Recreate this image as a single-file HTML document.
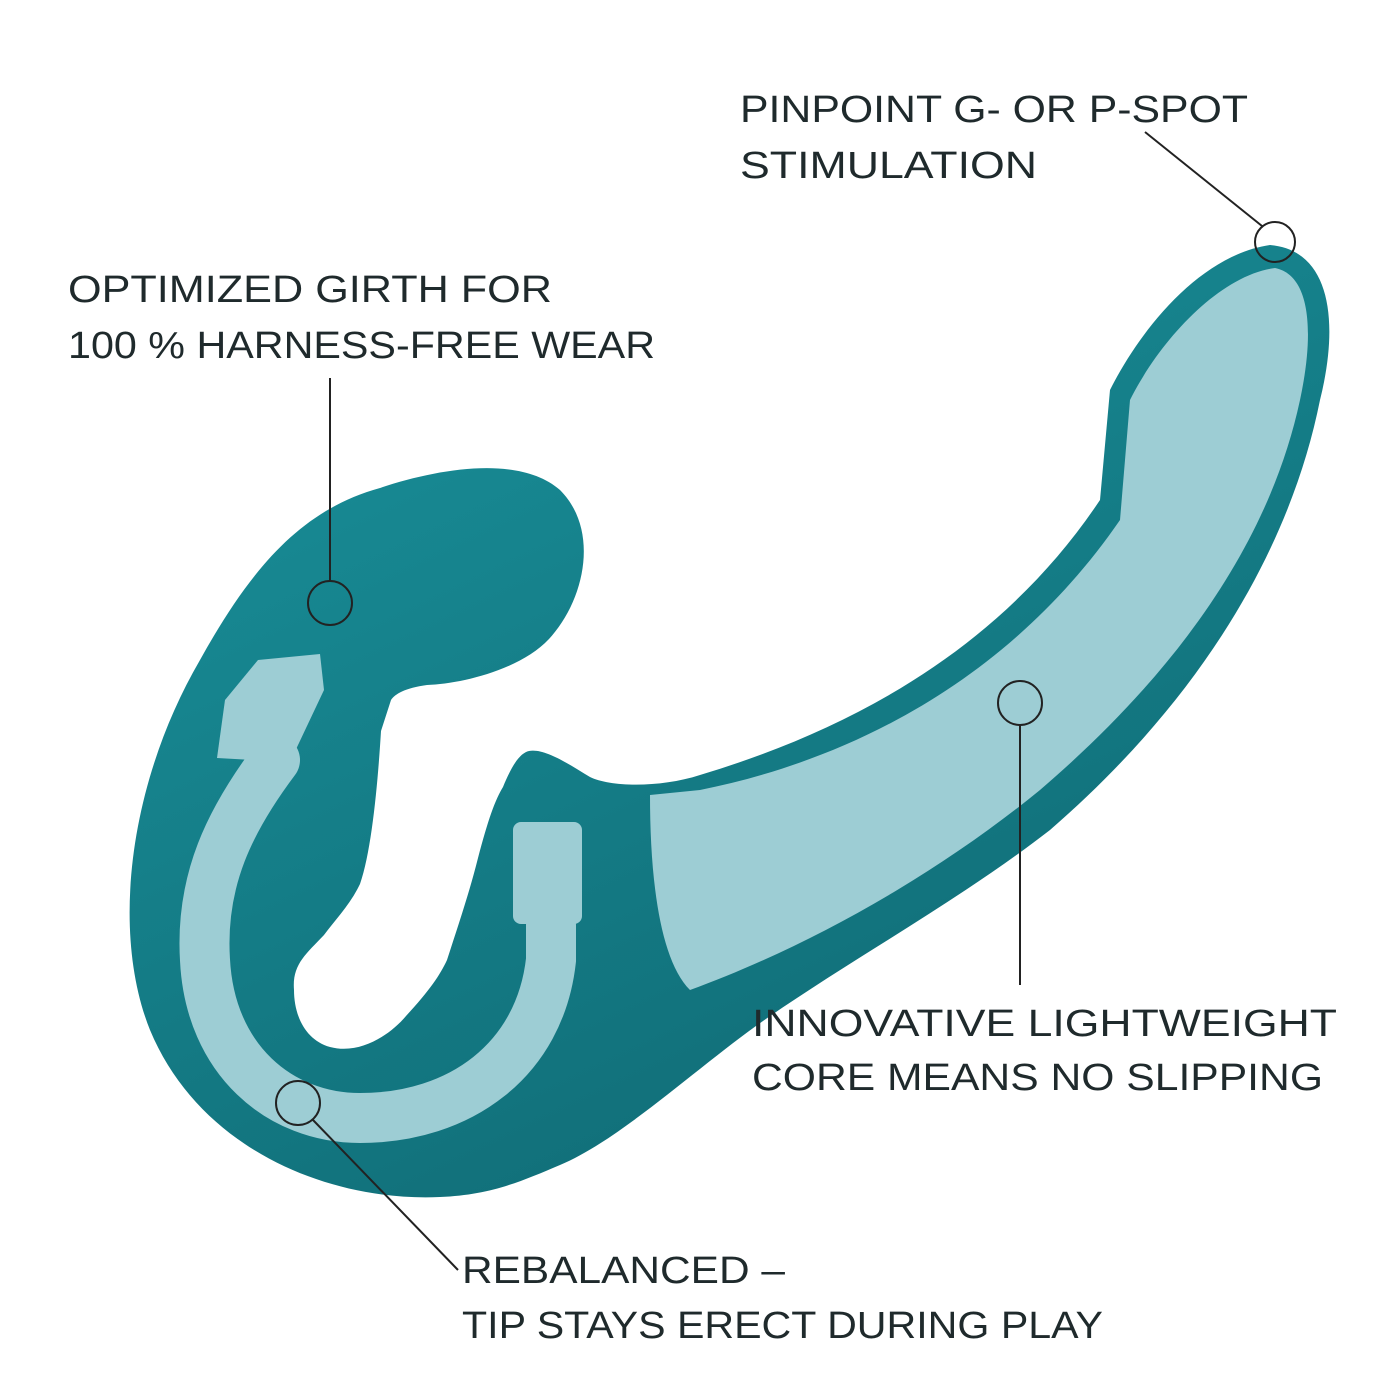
<!DOCTYPE html>
<html><head><meta charset="utf-8"><style>
html,body{margin:0;padding:0;background:#fff;}
svg{display:block;}
text{font-family:"Liberation Sans",sans-serif;font-size:38px;fill:#1f2a2c;}
</style></head><body>
<svg width="1400" height="1400" viewBox="0 0 1400 1400" xmlns="http://www.w3.org/2000/svg">
<defs>
<linearGradient id="tg" x1="0" y1="0" x2="0.6" y2="1">
<stop offset="0" stop-color="#1a929c"/><stop offset="1" stop-color="#106c76"/>
</linearGradient>
</defs>
<rect width="1400" height="1400" fill="#fff"/>
<!-- body -->
<path d="M391 700 L381 731 C378 780 372 850 360 884 C350 905 335 920 324 935 C305 955 292 965 294 990 C294 1015 305 1040 330 1047 C360 1055 390 1035 406 1016 C430 990 440 975 447 960 C460 920 470 890 478 858 C488 820 495 800 503 787 C512 765 520 753 529 751 C545 748 570 765 590 777 C610 787 660 788 700 775
C850 730 1000 650 1100 500 L1110 390 C1140 330 1200 255 1270 245 C1330 250 1340 320 1320 400
C1290 550 1200 700 1050 830 C960 900 850 960 763 1021 C700 1065 620 1140 560 1165
C520 1182 490 1195 440 1197 C330 1202 200 1150 150 1030 C110 930 130 780 200 660
C250 570 300 510 380 488 C440 468 520 455 560 490 C600 530 585 600 549 639
C520 670 460 684 427 685 C405 688 395 694 391 700 Z" fill="url(#tg)"/>
<!-- shaft inner light -->
<path d="M650 795 L700 790 C850 760 1010 680 1120 520 L1130 400 C1160 340 1220 275 1275 268 C1310 275 1315 330 1300 400 C1270 540 1180 670 1040 790 C930 880 800 950 690 990 C660 960 650 880 650 795 Z" fill="#9dcdd4"/>
<!-- light U core -->
<path d="M275 760 C230 820 200 880 205 960 C210 1060 280 1118 360 1118 C460 1118 540 1060 551 960 L551 925" fill="none" stroke="#9dcdd4" stroke-width="50" stroke-linecap="round"/>
<path d="M225 700 L258 660 L320 654 L324 690 L290 762 L217 758 Z" fill="#9dcdd4"/>
<rect x="513" y="822" width="69" height="102" rx="8" fill="#9dcdd4"/>
<!-- callouts -->
<g fill="none" stroke="#222" stroke-width="2">
<circle cx="1275" cy="242" r="20"/><line x1="1262" y1="226" x2="1145" y2="132"/>
<circle cx="330" cy="603" r="22"/><line x1="330" y1="581" x2="330" y2="378"/>
<circle cx="1020" cy="703" r="22"/><line x1="1020" y1="725" x2="1020" y2="985"/>
<circle cx="298" cy="1103" r="22"/><line x1="313" y1="1120" x2="458" y2="1270"/>
</g>
<text x="740" y="122" textLength="508" lengthAdjust="spacingAndGlyphs">PINPOINT G- OR P-SPOT</text>
<text x="740" y="178" textLength="297" lengthAdjust="spacingAndGlyphs">STIMULATION</text>
<text x="68" y="302" textLength="484" lengthAdjust="spacingAndGlyphs">OPTIMIZED GIRTH FOR</text>
<text x="68" y="358" textLength="587" lengthAdjust="spacingAndGlyphs">100 % HARNESS-FREE WEAR</text>
<text x="752" y="1036" textLength="585" lengthAdjust="spacingAndGlyphs">INNOVATIVE LIGHTWEIGHT</text>
<text x="752" y="1090" textLength="571" lengthAdjust="spacingAndGlyphs">CORE MEANS NO SLIPPING</text>
<text x="462" y="1283" textLength="323" lengthAdjust="spacingAndGlyphs">REBALANCED –</text>
<text x="462" y="1338" textLength="641" lengthAdjust="spacingAndGlyphs">TIP STAYS ERECT DURING PLAY</text>
</svg>
</body></html>
